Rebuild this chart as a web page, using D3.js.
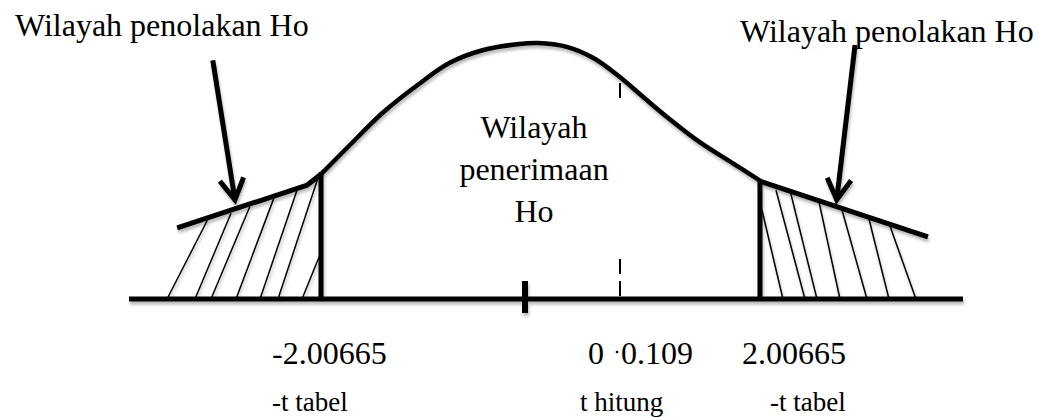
<!DOCTYPE html>
<html lang="id">
<head>
<meta charset="utf-8">
<title>Uji t - wilayah penerimaan Ho</title>
<script src="https://cdn.jsdelivr.net/npm/d3@7"></script>
<style>
  body {margin: 0; background: white;}
  text {font-family: "Liberation Serif", "Times New Roman", serif; fill: black;}
</style>
</head>
<body>
<svg width="1050" height="417"></svg>
<script>
// values (t on x, density on y, schematic, not to scale)
var tickValues = [-2.00665, 0, 0.109, 2.00665];
var tickLabels = ["-2.00665", "0", "0.109", "2.00665"];
var roleValues = [-2.00665, 0.109, 2.00665];
var roleLabels = ["-t tabel", "t hitung", "-t tabel"];
var rejectTitle = "Wilayah penolakan Ho";
var acceptLines = ["Wilayah", "penerimaan", "Ho"];

var curveT = [-2.00665, -1.72, -1.40, -1.06, -0.74, -0.41, -0.08, 0.015, 0.048, 0.078, 0.106, 0.42, 0.75, 1.19, 1.64, 2.026];
var curveDensity = [0.195, 0.241, 0.291, 0.334, 0.369, 0.389, 0.398, 0.400, 0.394, 0.377, 0.350, 0.316, 0.284, 0.245, 0.212, 0.183];

var leftTailT = [-3.50, -2.15, -2.00665];
var leftTailDensity = [0.111, 0.178, 0.195];
var rightTailT = [2.026, 3.656];
var rightTailDensity = [0.183, 0.097];

var criticalTop = [0.195, 0.183];
var tHitung = 0.109;
var tHitungTop = 0.3375;

var hatchLeftBottom = [-3.605, -3.315, -3.149, -2.889, -2.640, -2.453, -2.204];
var hatchLeftTopT = [-3.180, -2.941, -2.744, -2.495, -2.256, -2.038, -2.00665];
var hatchLeftTopDensity = [0.125, 0.134, 0.145, 0.158, 0.170, 0.189, 0.073];
var hatchRightBottom = [2.232, 2.448, 2.566, 2.792, 3.057, 3.273, 3.538];
var hatchRightTopT = [2.026, 2.164, 2.301, 2.586, 2.812, 3.077, 3.283];
var hatchRightTopDensity = [0.139, 0.170, 0.170, 0.152, 0.139, 0.125, 0.114];

var arrowStartT = [-3.13, 2.94];
var arrowStartDensity = [0.373, 0.397];
var arrowEndT = [-2.90, 2.76];
var arrowEndDensity = [0.155, 0.155];

var xScale = d3.scaleLinear()
	.domain([-4, -2.00665, 0, 0.109, 2.00665, 4])
	.range([129, 321, 525, 620, 760, 963]);

var yScale = d3.scaleLinear()
	.domain([0, 0.4])
	.range([299, 43]);

var svg = d3.select("svg");

svg.append("rect")
	.attr("width", 1050)
	.attr("height", 417)
	.attr("fill", "white");

// soft shadow under the strokes, as in the scanned figure
svg.append("defs")
	.append("filter")
		.attr("id", "ombre")
		.attr("filterUnits", "userSpaceOnUse")
		.attr("x", 0).attr("y", 0)
		.attr("width", 1050).attr("height", 417)
		.append("feDropShadow")
			.attr("dx", 1)
			.attr("dy", 3)
			.attr("stdDeviation", 1.8)
			.attr("flood-color", "#000")
			.attr("flood-opacity", 0.28);

function pts(ts, ds) {
	return ts.map(function (t, i) { return [t, ds[i]]; });
}

// dashed line for t hitung
svg.append("line")
	.attr("x1", xScale(tHitung))
	.attr("x2", xScale(tHitung))
	.attr("y1", yScale(tHitungTop))
	.attr("y2", yScale(0))
	.attr("stroke", "black")
	.attr("stroke-width", 2)
	.attr("stroke-dasharray", "15,7");

// white box behind the middle text
var midX = 534;
svg.append("rect")
	.attr("x", midX - 111)
	.attr("y", 98)
	.attr("width", 220)
	.attr("height", 158)
	.attr("fill", "white");

var g = svg.append("g").attr("filter", "url(#ombre)");

// hatching
g.selectAll("line.hatchL")
	.data(hatchLeftBottom)
	.enter()
	.append("line")
		.classed("hatchL", true)
		.attr("x1", function (d) { return xScale(d); })
		.attr("y1", yScale(0))
		.attr("x2", function (d, i) { return xScale(hatchLeftTopT[i]); })
		.attr("y2", function (d, i) { return yScale(hatchLeftTopDensity[i]); })
		.attr("stroke", "black")
		.attr("stroke-width", 1.5);

g.selectAll("line.hatchR")
	.data(hatchRightBottom)
	.enter()
	.append("line")
		.classed("hatchR", true)
		.attr("x1", function (d) { return xScale(d); })
		.attr("y1", yScale(0))
		.attr("x2", function (d, i) { return xScale(hatchRightTopT[i]); })
		.attr("y2", function (d, i) { return yScale(hatchRightTopDensity[i]); })
		.attr("stroke", "black")
		.attr("stroke-width", 1.5);

// baseline
g.append("line")
	.attr("x1", xScale(-4))
	.attr("x2", xScale(4))
	.attr("y1", yScale(0))
	.attr("y2", yScale(0))
	.attr("stroke", "black")
	.attr("stroke-width", 5);

// tick at 0
g.append("line")
	.attr("x1", xScale(0))
	.attr("x2", xScale(0))
	.attr("y1", yScale(0) - 18)
	.attr("y2", yScale(0) + 14)
	.attr("stroke", "black")
	.attr("stroke-width", 6);

// critical lines
g.selectAll("line.crit")
	.data([tickValues[0], tickValues[3]])
	.enter()
	.append("line")
		.classed("crit", true)
		.attr("x1", function (d) { return xScale(d); })
		.attr("x2", function (d) { return xScale(d); })
		.attr("y1", yScale(0))
		.attr("y2", function (d, i) { return yScale(criticalTop[i]) - 2; })
		.attr("stroke", "black")
		.attr("stroke-width", 5);

var lineCurve = d3.line()
	.x(function (d) { return xScale(d[0]); })
	.y(function (d) { return yScale(d[1]); })
	.curve(d3.curveCatmullRom.alpha(0.5));

var lineStraight = d3.line()
	.x(function (d) { return xScale(d[0]); })
	.y(function (d) { return yScale(d[1]); });

g.append("path")
	.datum(pts(curveT, curveDensity))
	.attr("d", lineCurve)
	.attr("fill", "none")
	.attr("stroke", "black")
	.attr("stroke-width", 4.5);

[pts(leftTailT, leftTailDensity), pts(rightTailT, rightTailDensity)].forEach(function (p) {
	g.append("path")
		.datum(p)
		.attr("d", lineStraight)
		.attr("fill", "none")
		.attr("stroke", "black")
		.attr("stroke-width", 5)
		.attr("stroke-linejoin", "round");
});

// arrows
arrowStartT.forEach(function (t, i) {
	var x1 = xScale(t), y1 = yScale(arrowStartDensity[i]);
	var x2 = xScale(arrowEndT[i]), y2 = yScale(arrowEndDensity[i]);
	var ang = Math.atan2(y1 - y2, x1 - x2);
	var len = 24, spread = Math.PI / 6;
	g.append("line")
		.attr("x1", x1).attr("y1", y1)
		.attr("x2", x2).attr("y2", y2)
		.attr("stroke", "black")
		.attr("stroke-width", 5);
	g.append("path")
		.attr("d", d3.line()([
			[x2 + len * Math.cos(ang - spread), y2 + len * Math.sin(ang - spread)],
			[x2, y2],
			[x2 + len * Math.cos(ang + spread), y2 + len * Math.sin(ang + spread)]
		]))
		.attr("fill", "none")
		.attr("stroke", "black")
		.attr("stroke-width", 5)
		.attr("stroke-linejoin", "miter");
});

// titles
svg.append("text")
	.attr("x", 15)
	.attr("y", 36)
	.style("font-size", "32px")
	.text(rejectTitle);

svg.append("text")
	.attr("x", 740)
	.attr("y", 42)
	.style("font-size", "32px")
	.text(rejectTitle);

svg.selectAll("text.accept")
	.data(acceptLines)
	.enter()
	.append("text")
		.classed("accept", true)
		.attr("x", midX)
		.attr("y", function (d, i) { return 138 + i * 42; })
		.style("text-anchor", "middle")
		.style("font-size", "32px")
		.text(function (d) { return d; });

// value labels under the axis
var tickDx = [-49, 63, 1, -18];
svg.selectAll("text.nilai")
	.data(tickLabels)
	.enter()
	.append("text")
		.classed("nilai", true)
		.attr("x", function (d, i) { return xScale(tickValues[i]) + tickDx[i]; })
		.attr("y", 364)
		.style("font-size", "32px")
		.text(function (d) { return d; });

// the small stray dot in front of 0.109
svg.append("circle")
	.attr("cx", xScale(tHitung) - 3)
	.attr("cy", 352)
	.attr("r", 1.3)
	.attr("fill", "black");

var roleDx = [-49, -40, 10];
svg.selectAll("text.peran")
	.data(roleLabels)
	.enter()
	.append("text")
		.classed("peran", true)
		.attr("x", function (d, i) { return xScale(roleValues[i]) + roleDx[i]; })
		.attr("y", 411)
		.style("font-size", "27px")
		.text(function (d) { return d; });
</script>
</body>
</html>
